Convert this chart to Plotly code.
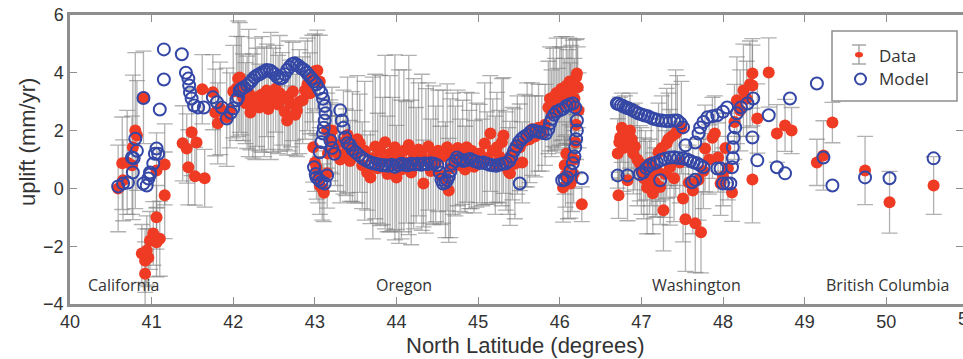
import plotly.graph_objects as go

# ---------------- observed uplift (Data) ----------------
ca_lat = [40.59, 40.65, 40.64, 40.70, 40.76, 40.77, 40.80, 40.82, 40.90, 40.88,
          40.92, 40.94, 40.98, 41.02, 41.06, 41.10, 41.06, 41.16, 41.16, 41.06,
          40.92, 40.96, 41.38, 41.43, 41.49, 41.55, 41.45, 41.53, 41.65, 41.62,
          41.75, 41.78, 41.81, 41.84, 41.92, 41.96]
ca_up = [0.00, 0.28, 0.87, 0.90, 0.80, 1.42, 2.00, 1.83, 3.15, -2.25,
         -2.50, -2.15, -1.80, -1.56, -1.86, -1.74, -1.00, -0.24, 0.83, 0.62,
         -2.95, -2.40, 1.56, 1.38, 1.94, 1.59, 0.73, 0.42, 0.35, 3.43,
         3.33, 2.63, 2.25, 2.77, 2.46, 2.70]
ca_err = [1.5, 1.4, 1.6, 1.8, 1.7, 2.5, 2.7, 1.9, 1.6, 1.0,
          1.1, 1.2, 1.0, 1.1, 1.2, 1.3, 1.1, 1.5, 1.4, 1.3,
          1.1, 1.0, 1.3, 1.2, 1.5, 1.1, 1.3, 1.0, 1.0, 1.2,
          1.3, 1.5, 1.4, 1.6, 1.7, 1.3]

so_lat = [42.00, 42.04, 42.06, 42.08, 42.10, 42.12, 42.15, 42.17, 42.19, 42.21,
          42.24, 42.27, 42.29, 42.32, 42.35, 42.38, 42.41, 42.43, 42.46, 42.49,
          42.52, 42.55, 42.57, 42.60, 42.63, 42.66, 42.68, 42.70, 42.73, 42.76,
          42.78, 42.81, 42.85, 42.88, 42.91, 42.94, 42.97, 43.00, 43.03, 43.06,
          42.98, 43.00, 43.02, 43.04, 43.06, 43.09, 43.11, 43.15, 43.16, 43.19,
          43.21, 43.15, 43.19, 43.25, 43.28, 43.31]
so_up = [3.35, 3.46, 3.80, 3.84, 3.55, 3.15, 2.95, 2.98, 3.30, 2.63,
         2.85, 3.10, 3.15, 2.80, 3.25, 3.00, 3.39, 2.75, 3.20, 3.05,
         3.45, 2.90, 3.29, 3.10, 2.65, 2.35, 3.20, 2.94, 3.35, 2.55,
         2.70, 3.00, 3.05, 3.40, 3.60, 3.29, 3.80, 4.05, 4.08, 3.70,
         1.42, 0.90, 0.73, 0.40, 0.10, 0.00, -0.15, 0.52, 1.21, 1.66,
         2.00, 2.00, 1.76, 1.50, 1.20, 1.00]
so_err = [1.6, 1.8, 2.0, 1.9, 1.7, 1.5, 1.4, 1.6, 2.2, 1.3,
          1.8, 2.1, 1.7, 1.5, 2.0, 1.9, 1.6, 1.4, 2.2, 1.8,
          1.5, 1.7, 2.0, 1.6, 1.3, 1.2, 1.9, 1.5, 1.7, 1.4,
          1.6, 1.8, 1.5, 1.7, 1.6, 1.4, 1.5, 1.3, 1.4, 1.6,
          1.2, 1.0, 1.1, 0.9, 1.0, 1.1, 1.0, 1.2, 1.3, 1.4,
          1.5, 1.3, 1.2, 1.4, 1.3, 1.5]

or_lat = [43.35, 43.38, 43.40, 43.43, 43.46, 43.49, 43.52, 43.55, 43.58, 43.61,
          43.64, 43.68, 43.71, 43.74, 43.77, 43.80, 43.83, 43.86, 43.89, 43.92,
          43.95, 43.98, 44.00, 44.03, 44.06, 44.09, 44.12, 44.15, 44.18, 44.21,
          44.24, 44.27, 44.31, 44.33, 44.36, 44.39, 44.42, 44.45, 44.48, 44.51,
          44.54, 44.57, 44.60, 44.62, 44.64, 44.66, 44.69, 44.72, 44.75, 44.78,
          44.81, 44.84, 44.86, 44.89, 44.92, 44.95, 44.98, 45.02, 45.05, 45.08,
          45.11, 45.15, 45.18, 45.21, 45.23, 45.26, 45.29, 45.31, 45.34, 45.37,
          45.39, 45.42, 45.45, 45.48, 45.51, 45.54, 45.57, 45.60, 45.63, 45.66,
          45.70, 45.74, 45.78, 45.82]
or_up = [1.60, 1.25, 1.85, 0.95, 1.45, 1.10, 1.70, 1.56, 0.80, 1.30,
         0.55, 0.38, 1.05, 1.45, 0.70, 1.31, 0.95, 1.60, 0.50, 1.20,
         0.85, 1.42, 0.38, 1.10, 0.65, 1.30, 0.90, 1.50, 0.55, 1.20,
         0.80, 1.35, 1.25, 0.17, 0.95, 1.45, 0.60, 1.15, 0.85, 1.30,
         0.45, 1.10, 0.30, 1.42, -0.07, 0.70, 1.20, 0.95, 1.40, 0.80,
         1.25, 0.65, 1.42, 1.00, 1.30, 0.75, 1.15, 1.21, 0.90, 1.55,
         1.05, 1.90, 1.30, 0.80, 1.42, 1.10, 1.60, 1.83, 0.95, 0.60,
         0.52, 1.20, 0.85, 1.50, 1.42, 0.90, 1.65, 1.85, 1.70, 2.05,
         1.80, 2.10, 1.90, 2.20]
or_err = [1.8, 1.5, 2.0, 1.4, 1.9, 1.6, 2.2, 1.7, 1.5, 2.4,
          1.3, 1.6, 2.8, 2.5, 1.9, 2.6, 2.2, 3.0, 2.0, 2.7,
          2.3, 3.2, 1.8, 3.0, 2.4, 2.8, 2.1, 3.1, 2.5, 2.6,
          2.0, 2.3, 2.7, 1.5, 2.5, 2.2, 1.8, 2.4, 2.0, 2.1,
          1.7, 2.3, 2.0, 2.2, 1.8, 2.4, 2.1, 1.9, 2.0, 1.6,
          1.8, 1.5, 1.9, 1.7, 2.0, 1.6, 1.8, 1.7, 1.5, 2.1,
          1.6, 2.0, 1.8, 1.7, 1.9, 1.6, 2.2, 2.0, 1.7, 1.5,
          1.8, 1.6, 1.9, 1.7, 1.5, 1.4, 1.6, 1.8, 1.5, 1.6,
          1.4, 1.5, 1.3, 1.4]

co_lat = [45.86, 45.88, 45.90, 45.92, 45.94, 45.96, 45.98, 46.00, 46.02, 46.04,
          46.06, 46.08, 46.10, 46.12, 46.13, 46.14, 46.16, 46.18, 46.20, 46.21,
          46.22, 46.23, 46.20, 46.19, 46.18, 46.17, 46.15, 46.13, 46.10, 46.07,
          46.04, 46.06, 46.08, 46.27]
co_up = [2.80, 3.10, 2.60, 3.15, 2.90, 3.30, 2.75, 3.20, 3.45, 3.29,
         3.00, 3.55, 3.20, 3.70, 2.94, 3.35, 3.63, 3.10, 3.85, 3.98,
         3.50, 2.70, 2.20, 1.60, 1.00, 0.50, 0.30, 0.17, 0.25, 0.45,
         0.03, 0.80, 1.20, -0.55]
co_err = [1.6, 1.8, 1.5, 1.7, 1.6, 1.9, 1.4, 1.7, 1.8, 1.6,
          1.5, 1.7, 1.6, 1.5, 1.4, 1.6, 1.5, 1.4, 1.3, 1.2,
          1.4, 1.3, 1.2, 1.1, 1.0, 1.0, 1.1, 1.2, 1.3, 1.1,
          1.2, 1.0, 1.1, 0.6]

wa_lat = [46.71, 46.72, 46.73, 46.74, 46.76, 46.78, 46.80, 46.83, 46.84, 46.86,
          46.88, 46.90, 46.92, 46.95, 46.98, 47.00, 47.03, 47.05, 47.07, 47.10,
          47.12, 47.14, 47.17, 47.19, 47.21, 47.23, 47.25, 47.27, 47.29, 47.31,
          47.33, 47.35, 47.37, 47.40, 47.42, 47.44, 47.47, 47.49, 47.51, 47.54,
          47.58, 47.63, 47.66, 47.70, 47.73, 47.76, 47.78, 47.83, 47.87, 47.90,
          47.94, 47.97, 48.00, 48.03, 48.06, 48.11, 48.14, 48.17, 48.21, 48.25,
          48.29, 48.33, 48.36, 48.36, 48.36, 48.42, 48.56, 48.66, 48.76, 48.84]
wa_up = [1.21, -0.24, 1.60, 1.76, 2.10, 1.40, 1.90, 0.28, 1.55, 2.00,
         1.70, 1.21, 1.45, 1.00, 0.87, 0.60, 0.35, 0.80, 0.03, 0.40,
         0.90, -0.17, 0.20, 0.62, 1.25, 0.05, 1.40, -0.76, 0.50, 1.56,
         1.70, 0.73, 1.80, 0.35, 1.90, 2.00, 0.90, 2.10, -0.35, -1.07,
         0.20, -0.07, -1.21, 0.30, -1.52, 0.60, 1.38, 1.00, 1.75, 1.90,
         1.07, 0.17, 0.40, 1.40, 0.70, -0.14, 2.30, 3.05, 2.70, 3.39,
         3.10, 3.60, 3.98, 3.56, 0.31, 2.42, 4.01, 1.90, 2.18, 2.00]
wa_err = [1.2, 0.8, 1.3, 1.4, 1.2, 1.5, 1.3, 1.4, 1.1, 1.3,
          1.2, 1.4, 1.5, 1.6, 1.3, 1.5, 1.4, 1.2, 1.6, 1.3,
          1.5, 1.4, 1.2, 1.6, 1.7, 1.3, 1.8, 1.4, 1.5, 1.9,
          1.6, 2.0, 1.8, 1.5, 2.2, 1.9, 1.4, 1.6, 1.5, 1.8,
          1.3, 1.5, 1.7, 1.4, 1.4, 1.3, 1.5, 1.2, 1.4, 1.3,
          1.2, 1.1, 1.0, 1.2, 1.1, 1.0, 1.3, 1.5, 1.4, 1.6,
          1.3, 1.5, 1.2, 1.4, 1.5, 1.2, 1.2, 1.0, 0.9, 0.8]

bc_lat = [49.15, 49.23, 49.34, 49.74, 50.04, 50.58]
bc_up = [0.90, 1.14, 2.28, 0.62, -0.48, 0.10]
bc_err = [0.8, 1.2, 0.7, 1.18, 1.07, 1.0]

# ---------------- modelled uplift (Model) ----------------
m_ca_lat = [40.59, 40.65, 40.71, 40.77, 40.78, 40.82, 40.80, 40.76, 40.90, 40.90,
            40.94, 40.96, 40.98, 41.02, 41.04, 41.06, 41.08, 40.98, 41.15, 41.15,
            41.10, 41.37, 41.42, 41.45, 41.46, 41.47, 41.49, 41.52, 41.57, 41.64,
            41.75, 41.80, 41.86, 41.92, 41.97]
m_ca_up = [0.07, 0.17, 0.20, 0.55, 1.04, 1.30, 1.72, 1.07, 3.13, 0.17,
           0.10, 0.34, 0.55, 0.86, 1.20, 1.38, 1.20, 0.48, 4.81, 3.77,
           2.73, 4.64, 4.00, 3.80, 3.56, 3.32, 3.11, 2.87, 2.80, 2.80,
           3.15, 2.98, 2.80, 2.42, 2.62]

m_so_lat = [42.00, 42.04, 42.06, 42.08, 42.10, 42.13, 42.17, 42.20, 42.23, 42.26,
            42.29, 42.32, 42.35, 42.38, 42.41, 42.45, 42.48, 42.51, 42.54, 42.57,
            42.60, 42.63, 42.66, 42.69, 42.72, 42.75, 42.78, 42.81, 42.84, 42.87,
            42.90, 42.93, 42.96, 42.99, 43.02, 43.05, 43.08, 43.10, 43.12, 43.13,
            43.12, 43.11, 43.10, 43.08, 43.06, 42.99, 43.01, 43.02, 43.05, 43.08,
            43.12, 43.15, 43.19, 43.21, 43.24, 43.31, 43.33, 43.35, 43.37, 43.40,
            43.43]
m_so_up = [2.77, 3.05, 3.15, 3.39, 3.45, 3.50, 3.56, 3.65, 3.74, 3.85,
           3.91, 3.95, 4.00, 4.05, 4.10, 4.08, 4.02, 3.95, 3.85, 3.80,
           3.82, 3.95, 4.10, 4.20, 4.30, 4.33, 4.28, 4.22, 4.15, 4.10,
           4.00, 3.90, 3.80, 3.70, 3.60, 3.45, 3.30, 3.10, 2.85, 2.60,
           2.35, 2.10, 1.90, 1.60, 1.25, 0.73, 0.50, 0.38, 0.30, 0.22,
           0.17, 0.45, 1.66, 1.40, 1.20, 2.70, 2.35, 2.10, 1.76, 1.56,
           1.50]

m_or_lat = [43.46, 43.50, 43.54, 43.58, 43.62, 43.66, 43.70, 43.74, 43.78, 43.82,
            43.86, 43.90, 43.94, 43.98, 44.02, 44.06, 44.10, 44.14, 44.18, 44.22,
            44.26, 44.30, 44.34, 44.38, 44.42, 44.46, 44.50, 44.53, 44.55, 44.57,
            44.60, 44.62, 44.64, 44.66, 44.68, 44.72, 44.74, 44.78, 44.82, 44.86,
            44.90, 44.94, 44.98, 45.02, 45.06, 45.10, 45.14, 45.18, 45.22, 45.26,
            45.30, 45.34, 45.38, 45.41, 45.44, 45.47, 45.50, 45.53, 45.56, 45.60,
            45.64, 45.67, 45.71, 45.75, 45.79, 45.83, 45.86, 45.88, 45.90, 45.93,
            45.96, 46.00, 46.04, 46.08, 46.12, 46.16, 46.19, 46.21, 46.21, 46.20,
            46.19, 46.18, 46.16, 46.13, 46.09, 46.06, 46.03, 46.27, 45.51]
m_or_up = [1.35, 1.25, 1.15, 1.05, 0.98, 0.92, 0.88, 0.85, 0.83, 0.80,
           0.80, 0.78, 0.82, 0.75, 0.80, 0.85, 0.82, 0.80, 0.85, 0.83,
           0.85, 0.82, 0.86, 0.84, 0.87, 0.85, 0.80, 0.55, 0.30, 0.17,
           0.20, 0.28, 0.40, 0.60, 0.85, 0.95, 1.07, 1.00, 0.95, 0.98,
           1.02, 0.96, 0.92, 0.88, 0.90, 0.86, 0.82, 0.80, 0.78, 0.82,
           0.85, 0.87, 0.95, 1.10, 1.30, 1.45, 1.60, 1.70, 1.78, 1.85,
           1.95, 2.00, 1.98, 1.95, 1.92, 1.90, 2.05, 2.25, 2.40, 2.55,
           2.65, 2.70, 2.75, 2.85, 2.90, 2.94, 2.80, 2.35, 2.00, 1.70,
           1.42, 1.10, 0.87, 0.60, 0.38, 0.30, 0.28, 0.35, 0.17]

m_wa_lat = [46.70, 46.72, 46.75, 46.78, 46.81, 46.84, 46.88, 46.92, 46.96, 47.00,
            47.04, 47.08, 47.12, 47.16, 47.20, 47.25, 47.30, 47.35, 47.40, 47.44,
            47.48, 47.51, 46.71, 46.83, 46.98, 47.02, 47.06, 47.10, 47.15, 47.19,
            47.24, 47.29, 47.35, 47.40, 47.45, 47.51, 47.56, 47.60, 47.64, 47.68,
            47.72, 47.76, 47.23, 47.62, 47.66, 47.54, 47.66, 47.70, 47.72, 47.76,
            47.81, 47.87, 47.93, 48.00, 48.05, 47.93, 47.97, 48.00, 48.05, 48.09,
            48.11, 48.12, 48.12, 48.13, 48.15, 48.17, 48.22, 48.30, 48.37, 48.36,
            48.42, 48.56, 48.66, 48.76, 48.82, 49.15]
m_wa_up = [2.94, 2.92, 2.88, 2.84, 2.80, 2.77, 2.72, 2.66, 2.60, 2.56,
           2.52, 2.50, 2.44, 2.40, 2.37, 2.35, 2.33, 2.33, 2.35, 2.35,
           2.25, 2.11, 0.45, 0.45, 0.50, 0.55, 0.70, 0.80, 0.86, 0.90,
           0.98, 1.03, 1.07, 1.08, 1.05, 1.04, 1.00, 0.95, 0.90, 0.87,
           0.80, 0.73, 0.28, 0.21, 0.30, 1.49, 1.59, 1.90, 2.11, 2.30,
           2.46, 2.50, 2.53, 2.65, 2.80, 0.69, 0.69, 0.17, 0.17, 0.17,
           0.73, 1.05, 1.42, 1.75, 2.11, 2.60, 2.80, 2.94, 3.11, 1.76,
           0.97, 2.53, 0.73, 0.52, 3.11, 3.63]

m_bc_lat = [49.23, 49.34, 49.74, 50.04, 50.58]
m_bc_up = [1.07, 0.10, 0.38, 0.35, 1.04]

# region labels
regions = ["California", "Oregon", "Washington", "British Columbia"]
region_lat = [40.66, 44.09, 47.68, 50.02]
region_y = -3.33

x_ticks = list(range(40, 51))
y_ticks = [-4, -2, 0, 2, 4, 6]
legend_labels = ["Data", "Model"]

# ---------------- assemble ----------------
data_lat = ca_lat + so_lat + or_lat + co_lat + wa_lat + bc_lat
data_up = ca_up + so_up + or_up + co_up + wa_up + bc_up
data_err = ca_err + so_err + or_err + co_err + wa_err + bc_err
model_lat = m_ca_lat + m_so_lat + m_or_lat + m_wa_lat + m_bc_lat
model_up = m_ca_up + m_so_up + m_or_up + m_wa_up + m_bc_up
assert len(data_lat) == len(data_up) == len(data_err)
assert len(model_lat) == len(model_up)

RED = "#ef3b24"
BLUE = "#3447a6"
AX = "#8e8e8e"
ERRC = "rgba(125,125,125,0.6)"
TXT = "#333333"
SANS = "Liberation Sans, Arial, sans-serif"
HUM = "Open Sans, sans-serif"
TICKFONT = dict(family=SANS, size=18, color=TXT)
LABFONT = dict(family=HUM, size=16, color=TXT)

# figure geometry (pixels) used to place decorations
W, H = 963, 359
ML, MT, MB = 70, 15, 55
PW, PH = W - ML, H - MT - MB


def px(xp):
    return (xp - ML) / PW


def py(yp):
    return (H - MB - yp) / PH


fig = go.Figure()
fig.add_trace(go.Scatter(
    x=data_lat, y=data_up, mode="markers", name=legend_labels[0], showlegend=False,
    marker=dict(color=RED, size=12, line=dict(width=0)),
    error_y=dict(type="data", array=data_err, visible=True,
                 color=ERRC, thickness=1.3, width=8),
))
fig.add_trace(go.Scatter(
    x=model_lat, y=model_up, mode="markers", name=legend_labels[1], showlegend=False,
    marker=dict(symbol="circle-open", color=BLUE, size=12, line=dict(width=2, color=BLUE)),
))

axcommon = dict(showline=True, linecolor=AX, linewidth=2.5, mirror="ticks",
                ticks="inside", ticklen=7, tickcolor=AX, tickwidth=1.2,
                showgrid=False, zeroline=False, tickfont=TICKFONT, automargin=False)
fig.update_xaxes(range=[40, 50.94], tickvals=x_ticks, **axcommon)
fig.update_yaxes(range=[-4, 6], tickvals=y_ticks, **axcommon)

ann = []
for name, lat in zip(regions, region_lat):
    ann.append(dict(x=lat, y=region_y, xref="x", yref="y", text=name,
                    xanchor="center", yanchor="middle", showarrow=False, font=LABFONT))
ann.append(dict(x=px(27), y=py(142), xref="paper", yref="paper", text="uplift (mm/yr)",
                textangle=-90, xanchor="center", yanchor="middle", showarrow=False,
                font=dict(family=SANS, size=22, color=TXT)))
ann.append(dict(x=px(525), y=py(345), xref="paper", yref="paper",
                text="North Latitude (degrees)", xanchor="center", yanchor="middle",
                showarrow=False, font=dict(family=SANS, size=22, color=TXT)))
ann.append(dict(x=px(968), y=py(319), xref="paper", yref="paper", text="51",
                xanchor="center", yanchor="middle", showarrow=False, font=TICKFONT))

# hand-drawn legend (box, error-bar glyph, open circle, labels)
LFONT = dict(family=HUM, size=17, color=TXT)
shapes = [
    dict(type="rect", xref="paper", yref="paper", x0=px(832), x1=px(957), y0=py(31), y1=py(101),
         line=dict(color=AX, width=1.5), fillcolor="white", layer="above"),
    dict(type="line", xref="paper", yref="paper", x0=px(859), x1=px(859), y0=py(45), y1=py(64),
         line=dict(color="#999999", width=1.3), layer="above"),
    dict(type="line", xref="paper", yref="paper", x0=px(852), x1=px(866), y0=py(45), y1=py(45),
         line=dict(color="#999999", width=1.3), layer="above"),
    dict(type="line", xref="paper", yref="paper", x0=px(852), x1=px(866), y0=py(64), y1=py(64),
         line=dict(color="#999999", width=1.3), layer="above"),
    dict(type="circle", xref="paper", yref="paper", x0=px(855), x1=px(863), y0=py(52), y1=py(57.5),
         line=dict(color=RED, width=0), fillcolor=RED, layer="above"),
    dict(type="circle", xref="paper", yref="paper", x0=px(855), x1=px(866), y0=py(73.5), y1=py(84.5),
         line=dict(color=BLUE, width=2), fillcolor="rgba(0,0,0,0)", layer="above"),
]
ann.append(dict(x=px(877), y=py(55), xref="paper", yref="paper", text=legend_labels[0],
                xanchor="left", yanchor="middle", showarrow=False, font=LFONT))
ann.append(dict(x=px(877), y=py(79), xref="paper", yref="paper", text=legend_labels[1],
                xanchor="left", yanchor="middle", showarrow=False, font=LFONT))

fig.update_layout(
    width=W, height=H,
    margin=dict(l=ML, r=0, t=MT, b=MB),
    paper_bgcolor="white", plot_bgcolor="white",
    showlegend=False,
    annotations=ann,
    shapes=shapes,
)

fig.write_html("out.html")
